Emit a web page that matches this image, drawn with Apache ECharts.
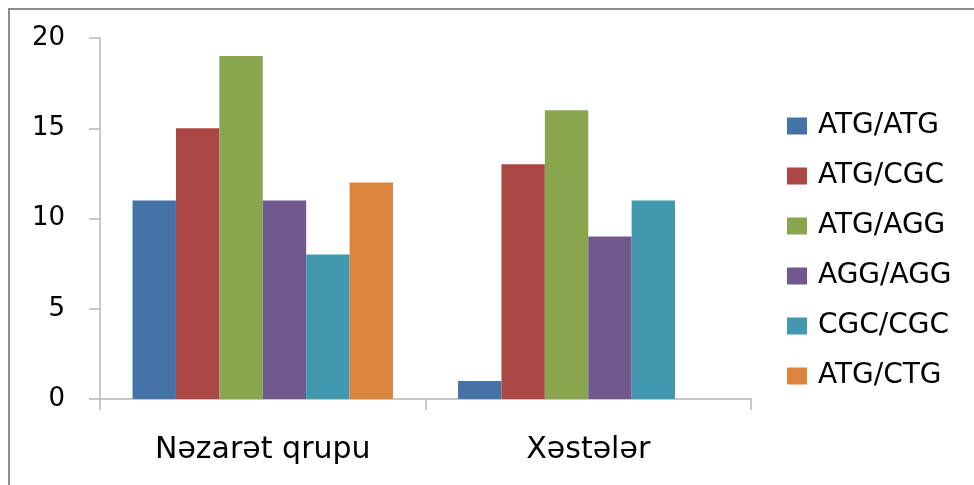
<!DOCTYPE html>
<html>
<head>
<meta charset="utf-8">
<style>
  html, body { margin: 0; padding: 0; background: #fff; }
  #chart { width: 974px; height: 485px; }
</style>
<script src="https://cdn.jsdelivr.net/npm/echarts@6/dist/echarts.min.js"></script>
</head>
<body>
<div id="chart"></div>
<script>
// Genotype counts per group
const categories = ['Nəzarət qrupu', 'Xəstələr'];
const genotypes = ['ATG/ATG', 'ATG/CGC', 'ATG/AGG', 'AGG/AGG', 'CGC/CGC', 'ATG/CTG'];
const atgAtg = [11, 1];
const atgCgc = [15, 13];
const atgAgg = [19, 16];
const aggAgg = [11, 9];
const cgcCgc = [8, 11];
const atgCtg = [12, '-'];
const yTicks = [0, 5, 10, 15, 20];

const seriesValues = [atgAtg, atgCgc, atgAgg, aggAgg, cgcCgc, atgCtg];
const colors = ['#4572A7', '#AA4643', '#89A54E', '#71588F', '#4198AF', '#DB843D'];

const font = 'DejaVu Sans';
const chart = echarts.init(document.getElementById('chart'), null, { renderer: 'canvas' });

chart.setOption({
  animation: false,
  backgroundColor: '#ffffff',
  color: colors,
  // frame along the top and left edges
  graphic: [
    { type: 'line', shape: { x1: 8, y1: 9, x2: 974, y2: 9 }, style: { stroke: '#8c8c8c', lineWidth: 2 }, silent: true },
    { type: 'line', shape: { x1: 9, y1: 8, x2: 9, y2: 485 }, style: { stroke: '#8c8c8c', lineWidth: 2 }, silent: true }
  ],
  grid: { left: 100, top: 38, right: 223, bottom: 86, containLabel: false },
  legend: {
    orient: 'vertical',
    left: 787,
    top: 111,
    padding: 0,
    itemWidth: 20,
    itemHeight: 17,
    itemGap: 20,
    icon: 'rect',
    data: genotypes,
    textStyle: { fontFamily: font, fontSize: 28, color: '#000', lineHeight: 30, padding: [0, 0, 0, 6] }
  },
  xAxis: {
    type: 'category',
    data: categories,
    axisLine: { lineStyle: { color: '#b7b7b7', width: 1.5 } },
    axisTick: { show: true, length: 11, lineStyle: { color: '#b7b7b7', width: 1.5 } },
    axisLabel: { fontFamily: font, fontSize: 30, color: '#000', margin: 36 }
  },
  yAxis: {
    type: 'value',
    min: yTicks[0],
    max: yTicks[yTicks.length - 1],
    interval: yTicks[1] - yTicks[0],
    splitLine: { show: false },
    axisLine: { show: true, lineStyle: { color: '#b7b7b7', width: 1.5 } },
    axisTick: { show: true, length: 11, lineStyle: { color: '#b7b7b7', width: 1.5 } },
    axisLabel: { fontFamily: font, fontSize: 26, color: '#000', margin: 35 }
  },
  series: genotypes.map((name, i) => ({
    name: name,
    type: 'bar',
    data: seriesValues[i],
    barGap: '0%',
    barCategoryGap: '20%',
    itemStyle: { color: colors[i] }
  }))
});
</script>
</body>
</html>
